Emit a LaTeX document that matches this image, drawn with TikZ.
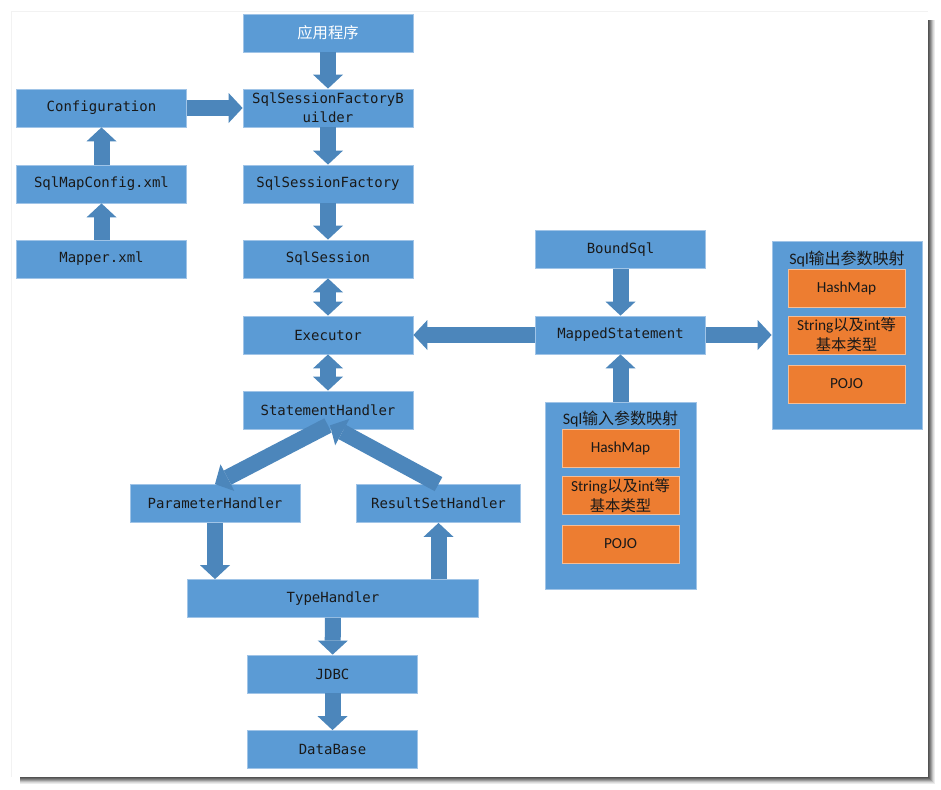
\documentclass[tikz,border=0pt]{standalone}
\usepackage{fontspec}
\setmainfont{Carlito}
\newfontfamily\codefont{DejaVu Sans Mono}
\newfontfamily\cjkfont{Noto Sans CJK SC}
\usepackage{tikz}
\usetikzlibrary{arrows.meta,calc}

\definecolor{boxblue}{RGB}{91,155,213}
\definecolor{boxedge}{RGB}{160,196,231}
\definecolor{arrowblue}{RGB}{76,134,187}
\definecolor{itemorange}{RGB}{237,125,49}
\definecolor{itemedge}{RGB}{246,190,150}
\definecolor{textdark}{RGB}{25,25,25}

\begin{document}
\begin{tikzpicture}[x=0.75pt,y=-0.75pt,
	box/.style={draw=boxedge,line width=0.6pt,fill=boxblue,minimum width=127.5pt,minimum height=28.5pt,inner sep=0pt,text=textdark,align=center,font=\codefont\fontsize{10.5}{14}\selectfont},
	grp/.style={draw=boxedge,line width=0.6pt,fill=boxblue,inner sep=0pt},
	item/.style={draw=itemedge,line width=0.6pt,fill=itemorange,minimum width=87.75pt,minimum height=28.5pt,inner sep=0pt,text=textdark,align=center,font=\fontsize{11.5}{15}\selectfont},
	fat/.style={draw=arrowblue,line width=12pt,-{Triangle[length=10.5pt,width=22.5pt,line width=0pt]}},
	fatboth/.style={draw=arrowblue,line width=12pt,{Triangle[length=10.5pt,width=22.5pt,line width=0pt]}-{Triangle[length=10.5pt,width=22.5pt,line width=0pt]}}]
			\useasboundingbox (0,0) rectangle (941,789);
			
			% Page and shadow
			\foreach \d/\c in {7/8,6/15,5/25,4/38,3/50,2/60,1/68}
			\fill[black!\c] (20,20) rectangle (928+\d,777+\d);
			\fill[white] (11,11) rectangle (928,777);
			\draw[black!5] (11,11) -- (11,777);
			\draw[black!5] (11,11) -- (928,11);
			
			% Main column
			\node[box,text=white,font=\cjkfont\fontsize{11.5}{14}\selectfont] (app) at (328,33) {应用程序};
			\node[box] (builder) at (328,108) {SqlSessionFactoryB\\uilder};
			\node[box] (factory) at (328,184) {SqlSessionFactory};
			\node[box] (session) at (328,259) {SqlSession};
			\node[box] (executor) at (328,335) {Executor};
			\node[box] (stmt) at (328,410) {StatementHandler};
			
			% Config column
			\node[box] (config) at (101.5,108) {Configuration};
			\node[box] (mapconfig) at (101.5,184) {SqlMapConfig.xml};
			\node[box] (mapper) at (101.5,259) {Mapper.xml};
			
			% Handlers
			\node[box] (param) at (215,503.5) {ParameterHandler};
			\node[box,minimum width=123pt] (result) at (438.5,503.5) {ResultSetHandler};
			\node[box,minimum width=218.25pt] (typeh) at (333,598.5) {TypeHandler};
			\node[box] (jdbc) at (332.5,674) {JDBC};
			\node[box] (db) at (332.5,749.5) {DataBase};
			
			% Statement side
			\node[box] (bound) at (620.5,249.5) {BoundSql};
			\node[box] (mapped) at (620.5,335) {MappedStatement};
			
			% Output mapping
			\node[grp,minimum width=112.5pt,minimum height=141pt] (outgrp) at (847,335) {};
			\node[font=\fontsize{12}{14}\selectfont,text=textdark] (outtitle) at (847,259) {Sql{\cjkfont 输出参数映射}};
			\node[item] (outmap) at (846.5,288) {HashMap};
			\node[item] (outstr) at (846.5,335) {String{\cjkfont 以及}int{\cjkfont 等}\\{\cjkfont 基本类型}};
			\node[item] (outpojo) at (846.5,384) {POJO};
			
			% Input mapping
			\node[grp,minimum width=113.25pt,minimum height=140.25pt] (ingrp) at (620.5,495.5) {};
			\node[font=\fontsize{12}{14}\selectfont,text=textdark] (intitle) at (620.5,419) {Sql{\cjkfont 输入参数映射}};
			\node[item] (inmap) at (620.5,448) {HashMap};
			\node[item] (instr) at (620.5,495.5) {String{\cjkfont 以及}int{\cjkfont 等}\\{\cjkfont 基本类型}};
			\node[item] (inpojo) at (620.5,544) {POJO};
			
			% Arrows
			\draw[fat] (app) -- (builder);
			\draw[fat] (builder) -- (factory);
			\draw[fat] (factory) -- (session);
			\draw[fat] (config) -- (builder);
			\draw[fat] (mapconfig) -- (config);
			\draw[fat] (mapper) -- (mapconfig);
			\draw[fatboth] (session) -- (executor);
			\draw[fatboth] (executor) -- (stmt);
			\draw[fat] (mapped) -- (executor);
			\draw[fat] (mapped) -- (outgrp);
			\draw[fat] (bound) -- (mapped);
			\draw[fat] (ingrp) -- (mapped);
			\draw[fat] ($(stmt.south)+(0,-4)$) -- (param.north);
			\draw[fat] (result.north) -- ($(stmt.south)+(2,-4)$);
			\draw[fat] (param.south) -- (param.south |- typeh.north);
			\draw[fat] (typeh.north -| result.south) -- (result.south);
			\draw[fat] (typeh) -- (jdbc);
			\draw[fat] (jdbc) -- (db);
		\end{tikzpicture}
\end{document}
